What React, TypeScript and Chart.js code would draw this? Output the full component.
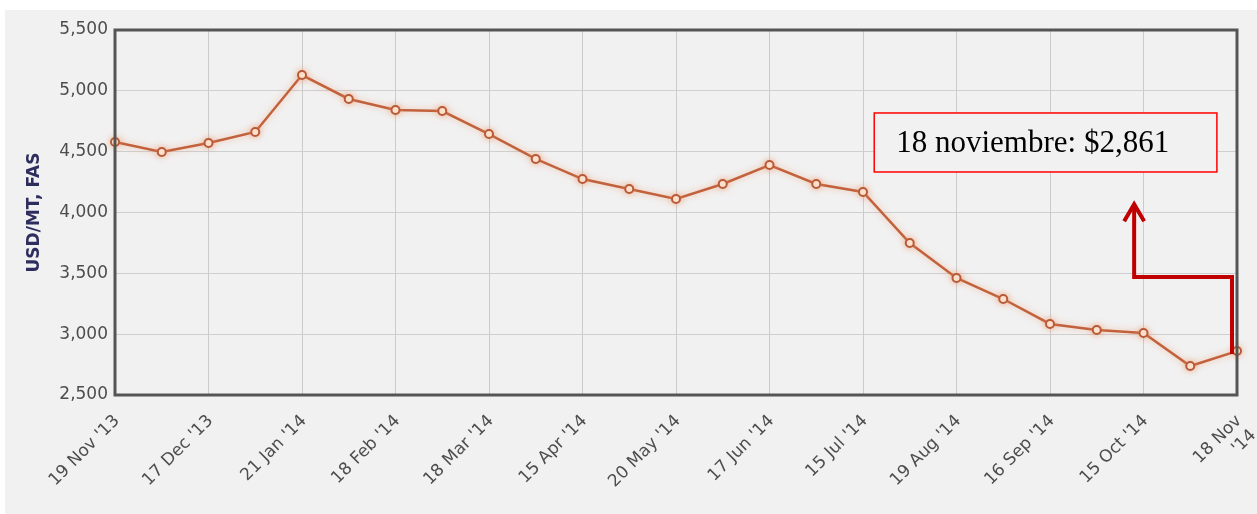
import React, { useEffect, useRef } from "react";
import { Chart, registerables } from "chart.js";

Chart.register(...registerables);

// ---- data ----
const categories: (string | string[])[] = [
  "19 Nov '13", "", "17 Dec '13", "", "21 Jan '14", "", "18 Feb '14", "",
  "18 Mar '14", "", "15 Apr '14", "", "20 May '14", "", "17 Jun '14", "",
  "15 Jul '14", "", "19 Aug '14", "", "16 Sep '14", "", "15 Oct '14", "",
  ["18 Nov", "'14"],
];

const prices: number[] = [
  4580, 4497, 4571, 4662, 5130, 4933, 4842, 4834, 4645, 4440, 4275, 4193,
  4111, 4234, 4390, 4234, 4169, 3749, 3462, 3289, 3084, 3034, 3010, 2738, 2861,
];

const yMin = 2500;
const yMax = 5500;
const yStep = 500;
const yTitle = "USD/MT, FAS";
const calloutText = "18 noviembre: $2,861";

// callout geometry expressed in data space (category index / value)
const callout = {
  boxFromIndex: 16.24,
  boxToIndex: 23.57,
  boxTopValue: 4818,
  boxBottomValue: 4333,
  arrowTurnValue: 3470,
  arrowTurnIndex: 21.8,
  arrowTipValue: 4085,
};

const BG = "#f1f1f1";

const backgroundPlugin = {
  id: "bgPanel",
  beforeDraw(chart: any) {
    const { ctx, width, height } = chart;
    ctx.save();
    ctx.fillStyle = "#ffffff";
    ctx.fillRect(0, 0, width, height);
    ctx.fillStyle = BG;
    ctx.fillRect(5, 10, width - 5, height - 10);
    ctx.restore();
  },
};

const glowPlugin = {
  id: "glow",
  beforeDatasetsDraw(chart: any) {
    const ctx = chart.ctx;
    ctx.save();
    ctx.shadowColor = "rgba(240,140,90,0.55)";
    ctx.shadowBlur = 6;
  },
  afterDatasetsDraw(chart: any) {
    chart.ctx.restore();
  },
};

const framePlugin = {
  id: "frame",
  afterDatasetsDraw(chart: any) {
    const { ctx, chartArea } = chart;
    const { left, right, top, bottom } = chartArea;
    ctx.save();
    ctx.strokeStyle = "#555555";
    ctx.lineWidth = 3;
    ctx.strokeRect(left, top, right - left, bottom - top);
    ctx.restore();

    const xs = chart.scales.x;
    const ys = chart.scales.y;
    const bx1 = xs.getPixelForValue(callout.boxFromIndex);
    const bx2 = xs.getPixelForValue(callout.boxToIndex);
    const by1 = ys.getPixelForValue(callout.boxTopValue);
    const by2 = ys.getPixelForValue(callout.boxBottomValue);
    ctx.save();
    ctx.fillStyle = BG;
    ctx.fillRect(bx1, by1, bx2 - bx1, by2 - by1);
    ctx.strokeStyle = "#ff0000";
    ctx.lineWidth = 1.5;
    ctx.strokeRect(bx1, by1, bx2 - bx1, by2 - by1);
    ctx.fillStyle = "#000000";
    ctx.font = '31px "Liberation Serif", "Times New Roman", serif';
    ctx.textBaseline = "middle";
    ctx.textAlign = "left";
    ctx.fillText(calloutText, bx1 + 22, (by1 + by2) / 2 + 1);

    const lastIdx = prices.length - 1;
    const sx = xs.getPixelForValue(lastIdx) - 5;
    const sy = ys.getPixelForValue(prices[lastIdx]);
    const ty = ys.getPixelForValue(callout.arrowTurnValue);
    const tx = xs.getPixelForValue(callout.arrowTurnIndex);
    const tipY = ys.getPixelForValue(callout.arrowTipValue);
    ctx.strokeStyle = "#c00000";
    ctx.lineWidth = 4;
    ctx.lineJoin = "miter";
    ctx.beginPath();
    ctx.moveTo(sx, sy + 3);
    ctx.lineTo(sx, ty);
    ctx.lineTo(tx, ty);
    ctx.lineTo(tx, tipY + 2);
    ctx.stroke();
    ctx.beginPath();
    ctx.moveTo(tx - 10, tipY + 19);
    ctx.lineTo(tx, tipY + 2);
    ctx.lineTo(tx + 10, tipY + 19);
    ctx.stroke();
    ctx.restore();
  },
};

export default function App() {
  const ref = useRef<HTMLCanvasElement | null>(null);

  useEffect(() => {
    if (!ref.current) return;
    const tickFont = { family: '"DejaVu Sans", sans-serif', size: 17 };
    const chart = new Chart(ref.current, {
      type: "line",
      data: {
        labels: categories as any,
        datasets: [
          {
            data: prices,
            borderColor: "#c2623d",
            borderWidth: 2.5,
            pointRadius: 4,
            pointBorderWidth: 2,
            pointBorderColor: "#b85a38",
            pointBackgroundColor: "#fff3e6",
            tension: 0,
            clip: false as any,
          },
        ],
      },
      options: {
        responsive: false,
        animation: false,
        layout: { padding: { top: 30, right: 20, left: 24, bottom: 0 } },
        plugins: {
          legend: { display: false },
          tooltip: { enabled: false },
        },
        scales: {
          x: {
            grid: {
              color: "#cbcbcb",
              lineWidth: 1,
              drawTicks: false,
            },
            border: { display: false },
            ticks: {
              autoSkip: false,
              minRotation: 45,
              maxRotation: 45,
              padding: 16,
              labelOffset: 2,
              color: "#4d4d4d",
              font: tickFont,
              callback: (_v: any, i: number) => {
                const l = categories[i];
                return l === "" ? null : (l as any);
              },
            },
            afterFit: (scale: any) => {
              scale.height = 119;
              scale.paddingLeft = 0;
              scale.paddingRight = 0;
            },
          },
          y: {
            min: yMin,
            max: yMax,
            grid: { color: "#cfcfcf", lineWidth: 1, drawTicks: false },
            border: { display: false },
            ticks: {
              stepSize: yStep,
              padding: 7,
              color: "#4d4d4d",
              font: tickFont,
              callback: (v: any) => Number(v).toLocaleString("en-US"),
            },
            title: {
              display: true,
              text: yTitle,
              color: "#2e2e5e",
              font: { family: '"DejaVu Sans", sans-serif', size: 17, weight: "bold" },
              padding: { top: 0, bottom: 0 },
            },
            afterFit: (scale: any) => {
              scale.width = 91;
            },
          },
        },
      },
      plugins: [backgroundPlugin, glowPlugin, framePlugin],
    });
    return () => chart.destroy();
  }, []);

  return (
    <div style={{ position: "absolute", left: 0, top: 0, width: 1257, height: 514, background: "#fff" }}>
      <canvas ref={ref} width={1257} height={514} style={{ display: "block" }} />
    </div>
  );
}
